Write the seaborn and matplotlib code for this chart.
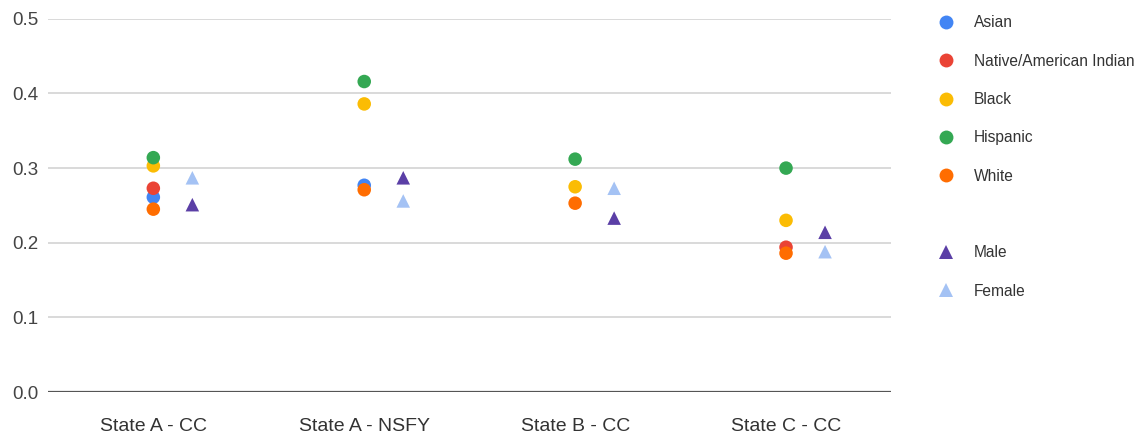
import numpy as np
import pandas as pd
import seaborn as sns
import matplotlib.pyplot as plt
from matplotlib.lines import Line2D

categories = ['State A - CC', 'State A - NSFY', 'State B - CC', 'State C - CC']

asian = [0.261, 0.277, np.nan, np.nan]
native = [0.273, np.nan, np.nan, 0.194]
black = [0.303, 0.386, 0.275, 0.230]
hispanic = [0.314, 0.416, 0.312, 0.300]
white = [0.245, 0.271, 0.253, 0.186]

male = [0.251, 0.287, 0.233, 0.214]
female = [0.287, 0.256, 0.273, 0.188]

race_groups = {'Asian': asian, 'Native/American Indian': native, 'Black': black,
               'Hispanic': hispanic, 'White': white}
gender_groups = {'Male': male, 'Female': female}

colors = {'Asian': '#4285F4', 'Native/American Indian': '#EA4335', 'Black': '#FBBC04',
          'Hispanic': '#34A853', 'White': '#FF6D01', 'Male': '#5B3FA6', 'Female': '#A4C2F4'}

rows = []
for g, vals in race_groups.items():
    for i, v in enumerate(vals):
        rows.append({'x': i, 'value': v, 'group': g})
race_df = pd.DataFrame(rows)

rows = []
for g, vals in gender_groups.items():
    for i, v in enumerate(vals):
        rows.append({'x': i + 0.185, 'value': v, 'group': g})
gender_df = pd.DataFrame(rows)

sns.set_style('white')
plt.rcParams['font.family'] = ['Liberation Sans', 'DejaVu Sans']

fig = plt.figure(figsize=(11.4, 4.38), dpi=100)
ax = fig.add_axes([0.042, 0.105, 0.74, 0.852])

sns.scatterplot(data=race_df.dropna(), x='x', y='value', hue='group', palette=colors,
                marker='o', s=95, linewidth=0, legend=False, ax=ax, zorder=3)
sns.scatterplot(data=gender_df, x='x', y='value', hue='group', palette=colors,
                marker='^', s=95, linewidth=0, legend=False, ax=ax, zorder=3)

ax.set_xlim(-0.5, 3.5)
ax.set_ylim(0, 0.5)
ax.set_yticks([0, 0.1, 0.2, 0.3, 0.4, 0.5])
ax.set_yticklabels(['0.0', '0.1', '0.2', '0.3', '0.4', '0.5'])
ax.set_xticks(range(len(categories)))
ax.set_xticklabels(categories)
ax.set_xlabel('')
ax.set_ylabel('')
ax.grid(axis='y', color='#d9d9d9', linewidth=1.4)
ax.set_axisbelow(True)
for s in ['top', 'right', 'left', 'bottom']:
    ax.spines[s].set_visible(False)
ax.axhline(0, color='#555555', linewidth=1.6, zorder=2)
ax.tick_params(axis='y', length=0, pad=7, labelsize=13.5, labelcolor='#444444')
ax.tick_params(axis='x', length=0, pad=19, labelsize=14, labelcolor='#333333')

handles = []
labels = []
for g in race_groups:
    handles.append(Line2D([], [], marker='o', linestyle='', markersize=10,
                          markerfacecolor=colors[g], markeredgewidth=0))
    labels.append(g)
handles.append(Line2D([], [], linestyle='', marker=''))
labels.append('')
for g in gender_groups:
    handles.append(Line2D([], [], marker='^', linestyle='', markersize=10,
                          markerfacecolor=colors[g], markeredgewidth=0))
    labels.append(g)

fig.legend(handles, labels, loc='upper left', bbox_to_anchor=(0.8035, 0.997),
           frameon=False, fontsize=11.2, labelspacing=1.5, handletextpad=0.8,
           labelcolor='#333333')

plt.savefig('out.png', dpi=100)
